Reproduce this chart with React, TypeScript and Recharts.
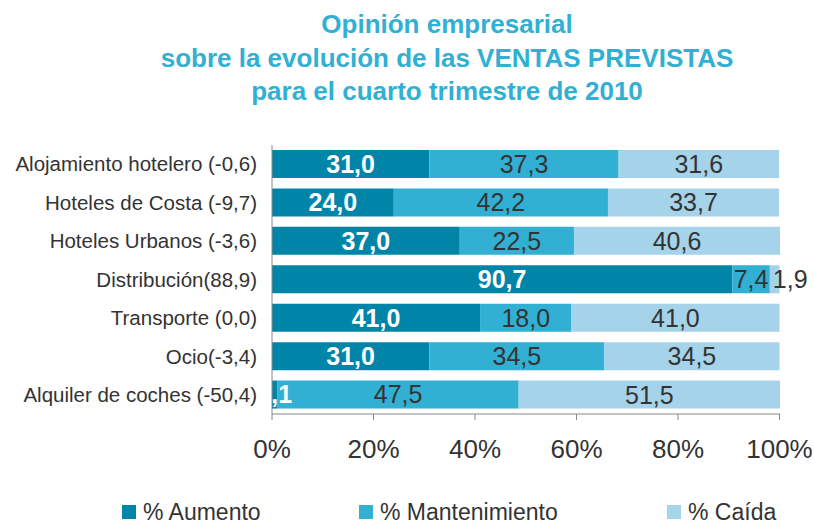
import React from "react";
import { BarChart, Bar, XAxis, YAxis, LabelList } from "recharts";

const categories = [
  "Alojamiento hotelero (-0,6)",
  "Hoteles de Costa (-9,7)",
  "Hoteles Urbanos (-3,6)",
  "Distribución(88,9)",
  "Transporte (0,0)",
  "Ocio(-3,4)",
  "Alquiler de coches (-50,4)",
];
const aumento = [31.0, 24.0, 37.0, 90.7, 41.0, 31.0, 1.1];
const mantenimiento = [37.3, 42.2, 22.5, 7.4, 18.0, 34.5, 47.5];
const caida = [31.6, 33.7, 40.6, 1.9, 41.0, 34.5, 51.5];
const xTicks = [0, 20, 40, 60, 80, 100];

const data = categories.map((name, i) => ({
  name,
  aumento: aumento[i],
  mantenimiento: mantenimiento[i],
  caida: caida[i],
}));

const C1 = "#0085A8";
const C2 = "#31B0D3";
const C3 = "#A5D3E9";
const FONT = "'Liberation Sans', Arial, sans-serif";

const fmt = (v: any) => Number(v).toFixed(1).replace(".", ",");

const legendItems = [
  { label: "% Aumento", color: C1, left: 122 },
  { label: "% Mantenimiento", color: C2, left: 359 },
  { label: "% Caída", color: C3, left: 667 },
];

// narrow segments: push the label to the right of the segment start
const CaidaLabel = (props: any) => {
  const { x, y, width, height, value } = props;
  const narrow = width < 30;
  return (
    <text
      x={narrow ? x + 3 : x + width / 2}
      y={y + height / 2}
      textAnchor={narrow ? "start" : "middle"}
      dominantBaseline="central"
      fill="#333"
      fontSize={25}
      fontFamily={FONT}
    >
      {fmt(value)}
    </text>
  );
};

export default function App() {
  return (
    <div style={{ position: "absolute", left: 0, top: 0, width: 814, height: 527, background: "#fff", fontFamily: FONT }}>
      <div style={{ position: "absolute", left: 0, top: 8, width: 894, textAlign: "center", color: "#31B0D3", fontWeight: "bold", fontSize: 26, lineHeight: "33.5px" }}>
        Opinión empresarial
        <br />
        sobre la evolución de las VENTAS PREVISTAS
        <br />
        para el cuarto trimestre de 2010
      </div>
      <div style={{ position: "absolute", left: 0, top: 0 }}>
        <BarChart
          width={814}
          height={527}
          data={data}
          layout="vertical"
          margin={{ top: 145, right: 34, bottom: 53, left: 0 }}
          barSize={28}
        >
          <XAxis
            type="number"
            domain={[0, 100]}
            ticks={xTicks}
            tickFormatter={(v) => `${v}%`}
            tick={{ fill: "#333", fontSize: 26, fontFamily: FONT }}
            axisLine={{ stroke: "#888" }}
            tickLine={{ stroke: "#888" }}
            tickSize={6}
            tickMargin={20}
            height={60}
          />
          <YAxis
            type="category"
            dataKey="name"
            width={272}
            tick={{ fill: "#333", fontSize: 20.5, fontFamily: FONT }}
            axisLine={{ stroke: "#888" }}
            tickLine={false}
            tickMargin={9}
          />
          <Bar dataKey="aumento" stackId="a" fill={C1} isAnimationActive={false}>
            <LabelList dataKey="aumento" position="center" formatter={fmt} fill="#fff" fontSize={25} fontWeight="bold" fontFamily={FONT} />
          </Bar>
          <Bar dataKey="mantenimiento" stackId="a" fill={C2} isAnimationActive={false}>
            <LabelList dataKey="mantenimiento" position="center" formatter={fmt} fill="#333" fontSize={25} fontFamily={FONT} />
          </Bar>
          <Bar dataKey="caida" stackId="a" fill={C3} isAnimationActive={false}>
            <LabelList dataKey="caida" content={CaidaLabel} />
          </Bar>
        </BarChart>
      </div>
      {legendItems.map((it) => (
        <div key={it.label} style={{ position: "absolute", left: it.left, top: 499, display: "flex", alignItems: "center", fontSize: 23, color: "#333", lineHeight: "26px" }}>
          <span style={{ display: "inline-block", width: 14, height: 14, background: it.color, marginRight: 7 }} />
          {it.label}
        </div>
      ))}
    </div>
  );
}
